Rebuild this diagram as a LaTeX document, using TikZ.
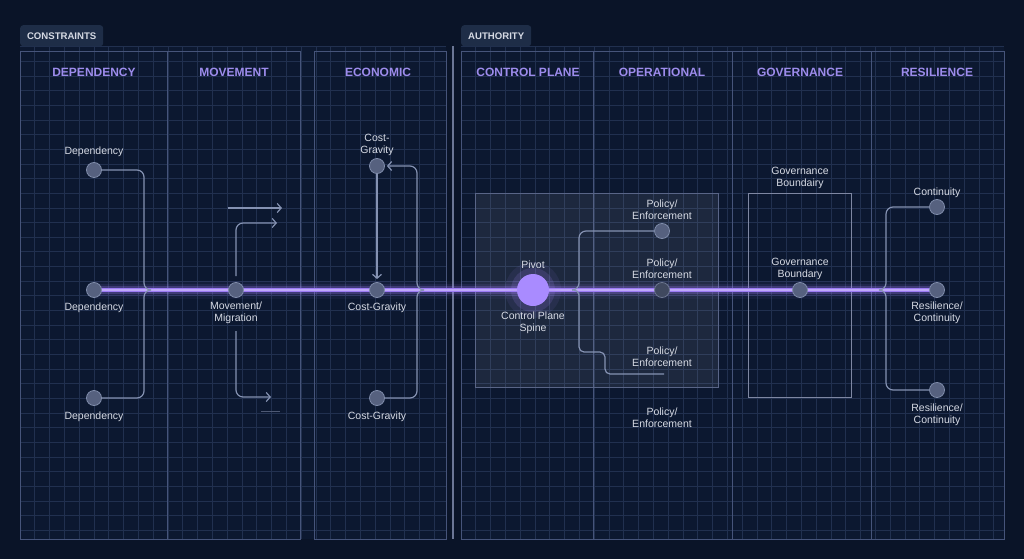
\documentclass[tikz,border=0pt]{standalone}
\usepackage{fontspec}
\setmainfont{Liberation Sans}
\usetikzlibrary{arrows.meta}
\definecolor{bgc}{HTML}{0A1428}
\definecolor{panelc}{HTML}{0C1830}
\definecolor{gridc}{HTML}{21304F}
\definecolor{framec}{HTML}{46547A}
\definecolor{hdrc}{HTML}{9D8CEC}
\definecolor{tabc}{HTML}{1E2D47}
\definecolor{lblc}{HTML}{D6DAE4}
\definecolor{linkc}{HTML}{8592B2}
\definecolor{dotc}{HTML}{56617F}
\definecolor{dotedge}{HTML}{7F8CAA}
\definecolor{spinec}{HTML}{9C7BF5}
\definecolor{pivotc}{HTML}{A98BFF}
\pgfdeclarelayer{bg}
\pgfdeclarelayer{glow}
\pgfsetlayers{bg,glow,main}
\newcommand{\lblfont}{\fontsize{10.5}{12}\selectfont}
\begin{document}
\begin{tikzpicture}[x=1pt, y=-1pt, >={Straight Barb[length=4pt,width=9pt]},
  dot/.style={circle, fill=dotc, draw=dotedge, line width=0.8pt, minimum size=15pt, inner sep=0pt},
  lbl/.style={text=lblc, font=\lblfont, align=center, inner sep=0pt},
  hdr/.style={text=hdrc, font=\bfseries\fontsize{12}{14}\selectfont, inner sep=0pt},
  tab/.style={fill=tabc, text=lblc, font=\bfseries\fontsize{9.6}{10}\selectfont, rounded corners=3pt, inner sep=0pt, minimum height=21pt, anchor=north west},
  link/.style={draw=linkc, line width=1.2pt, rounded corners=7pt}]

\begin{pgfonlayer}{bg}
  \fill[bgc] (0,0) rectangle (1024,559);
  \fill[panelc] (20,47) rectangle (446,539);
  \fill[panelc] (461,47) rectangle (1004,539);
  \foreach \gx in {34.8,49.6,...,440} \draw[gridc, line width=0.7pt] (\gx,47) -- (\gx,539);
  \foreach \gx in {475.8,490.6,...,1000} \draw[gridc, line width=0.7pt] (\gx,47) -- (\gx,539);
  \foreach \gy in {46.7,61.35,...,535} {
    \draw[gridc, line width=0.7pt] (20,\gy) -- (446,\gy);
    \draw[gridc, line width=0.7pt] (461,\gy) -- (1004,\gy);
  }
  \draw[framec, line width=1pt] (20,52) rectangle (300,539);
  \draw[framec, line width=1pt] (167,52) -- (167,539);
  \draw[framec, line width=1pt] (314,52) rectangle (446,539);
  \draw[framec, line width=1pt] (461,52) rectangle (1004,539);
  \foreach \gx in {593,732,871} \draw[framec, line width=1pt] (\gx,52) -- (\gx,539);
  \draw[framec!80!white, line width=1.6pt] (453,46) -- (453,539);
  \draw[draw=framec!90!white, fill=white, fill opacity=0.07, line width=1pt] (475,193) rectangle (718,387);
  \draw[draw=framec!70!white, line width=1pt] (748,193) rectangle (851,397);
\end{pgfonlayer}

\node[tab, minimum width=83pt] (tcon) at (20,25) {CONSTRAINTS};
\node[tab, minimum width=70pt] (tauth) at (461,25) {AUTHORITY};

\node[hdr] (hdep) at (94,72) {DEPENDENCY};
\node[hdr] (hmov) at (234,72) {MOVEMENT};
\node[hdr] (heco) at (378,72) {ECONOMIC};
\node[hdr] (hcp) at (528,72) {CONTROL PLANE};
\node[hdr] (hop) at (662,72) {OPERATIONAL};
\node[hdr] (hgov) at (800,72) {GOVERNANCE};
\node[hdr] (hres) at (937,72) {RESILIENCE};

\node[dot] (dt) at (94,170) {};
\node[dot] (dm) at (94,290) {};
\node[dot] (db) at (94,398) {};
\node[dot] (mv) at (236,290) {};
\node[dot] (ct) at (377,166) {};
\node[dot] (cm) at (377,290) {};
\node[dot] (cb) at (377,398) {};
\node[circle, fill=pivotc, minimum size=32pt, inner sep=0pt] (pv) at (533,290) {};
\node[dot] (pt) at (662,231) {};
\node[dot, fill=dotc!75!black, draw=dotedge!85!black] (pm) at (662,290) {};
\node[dot] (gv) at (800,290) {};
\node[dot] (rt) at (937,207) {};
\node[dot] (rm) at (937,290) {};
\node[dot] (rb) at (937,390) {};

\begin{pgfonlayer}{glow}
  \draw[spinec, line width=18pt, opacity=0.05] (dm.center) -- (rm.center);
  \draw[spinec, line width=12pt, opacity=0.10] (dm.center) -- (rm.center);
  \draw[spinec, line width=7.5pt, opacity=0.25] (dm.center) -- (rm.center);
  \draw[spinec, line width=4.6pt] (dm.center) -- (rm.center);
  \draw[spinec!65!white, line width=1.4pt] (dm.center) -- (rm.center);
  \fill[pivotc, opacity=0.08] (pv) circle (28);
  \fill[pivotc, opacity=0.15] (pv) circle (22);
\end{pgfonlayer}

\node[lbl] (ldt) at (94,151.5) {Dependency};
\node[lbl] (ldm) at (94,307.5) {Dependency};
\node[lbl] (ldb) at (94,416.5) {Dependency};
\node[lbl] (lmv) at (236,313) {Movement/\\Migration};
\node[lbl] (lct) at (377,145) {Cost-\\Gravity};
\node[lbl] (lcm) at (377,307.5) {Cost-Gravity};
\node[lbl] (lcb) at (377,416.5) {Cost-Gravity};
\node[lbl] (lpv) at (533,264.5) {Pivot};
\node[lbl] (lsp) at (533,323) {Control Plane\\Spine};
\node[lbl] (lpt) at (662,210) {Policy/\\Enforcement};
\node[lbl] (lpm) at (662,269) {Policy/\\Enforcement};
\node[lbl] (lpb) at (662,357) {Policy/\\Enforcement};
\node[lbl] (lpx) at (662,418) {Policy/\\Enforcement};
\node[lbl] (lgb) at (800,178) {Governance\\Boundairy};
\node[lbl] (lgv) at (800,269) {Governance\\Boundary};
\node[lbl] (lrt) at (937,192.5) {Continuity};
\node[lbl] (lrm) at (937,313) {Resilience/\\Continuity};
\node[lbl] (lrb) at (937,415) {Resilience/\\Continuity};

\coordinate (jd) at (151,290);
\draw[link] (dt) -- (144,170) -- (144,290) -- (jd);
\draw[link] (db) -- (144,398) -- (144,290) -- (jd);

\coordinate (ma1) at (228,208);
\coordinate (ma1e) at (282,208);
\coordinate (ma2e) at (277,223);
\coordinate (mb0) at (236,331);
\coordinate (mbe) at (271,397);
\coordinate (mf0) at (261,411);
\coordinate (mf1) at (280,411);
\draw[link, ->] (ma1) -- (ma1e);
\draw[link, ->] ([yshift=6pt]mv.north) -- (236,223) -- (ma2e);
\draw[link, ->] (mb0) -- (236,397) -- (mbe);
\draw[linkc!55!bgc, line width=1pt] (mf0) -- (mf1);

\coordinate (je) at (424,290);
\draw[link, ->, shorten >=3pt] (ct) -- (cm);
\draw[link] (cb) -- (417,398) -- (417,290) -- (je);
\draw[link, ->, shorten >=2pt] (je) -- (417,290) -- (417,166) -- (ct);

\coordinate (jp) at (572,290);
\coordinate (pe) at (664,374);
\draw[link] (jp) -- (579,290) -- (579,231) -- (pt);
\draw[link, rounded corners=5pt] (jp) -- (579,290) -- (579,352) -- (605,352) -- (605,374) -- (pe);

\coordinate (jr) at (879,290);
\draw[link] (jr) -- (886,290) -- (886,207) -- (rt);
\draw[link] (jr) -- (886,290) -- (886,390) -- (rb);
\end{tikzpicture}
\end{document}
